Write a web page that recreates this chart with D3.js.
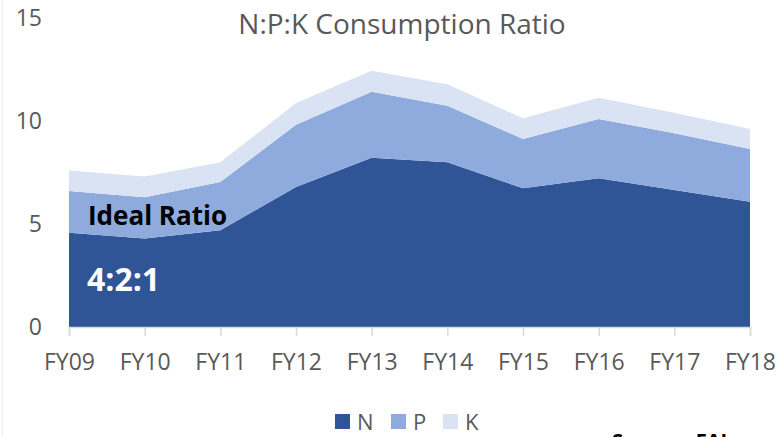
<html>
<head>
<script src="https://cdn.jsdelivr.net/npm/d3@7"></script>
<style>
  body { margin: 0; background: #fff; font-family: "Open Sans", Calibri, sans-serif; }
  svg { display: block; }
</style>
</head>
<body>
<svg id="chart"></svg>
<script>
// data
let years = ["FY09","FY10","FY11","FY12","FY13","FY14","FY15","FY16","FY17","FY18"];
let nValues = [4.57, 4.3, 4.7, 6.8, 8.22, 8.0, 6.73, 7.22, 6.65, 6.08];
let pValues = [2.03, 2.0, 2.34, 3.02, 3.2, 2.74, 2.4, 2.88, 2.75, 2.56];
let kValues = [1.0, 1.0, 0.96, 1.05, 1.02, 1.04, 1.0, 1.03, 1.0, 0.97];
let yTicks = [0, 5, 10, 15];
let seriesNames = ["N", "P", "K"];
let colors = ["#2f5597", "#8faadc", "#dae3f3"];

function getConfig() {
  let width = 779;
  let height = 437;
  let margin = { top: 18, bottom: 110, left: 69, right: 29 };
  let bodyWidth = width - margin.left - margin.right;
  let bodyHeight = height - margin.top - margin.bottom;
  let container = d3.select("#chart").attr("width", width).attr("height", height);
  return { width, height, margin, bodyWidth, bodyHeight, container };
}

function getScales(config) {
  let xScale = d3.scalePoint().domain(years).range([0, config.bodyWidth]);
  let yScale = d3.scaleLinear().domain([0, 15]).range([config.bodyHeight, 0]);
  return { xScale, yScale };
}

function drawChart() {
  let config = getConfig();
  let { xScale, yScale } = getScales(config);
  let { container, margin } = config;

  // faint outer border on the left
  container.append("line")
    .attr("x1", 2.5).attr("x2", 2.5).attr("y1", 0).attr("y2", config.height)
    .attr("stroke", "#ececec");

  let rows = years.map((y, i) => ({ year: y, N: nValues[i], P: pValues[i], K: kValues[i] }));
  let stacked = d3.stack().keys(seriesNames)(rows);

  let body = container.append("g")
    .attr("transform", `translate(${margin.left},${margin.top})`);

  let area = d3.area()
    .x(d => xScale(d.data.year))
    .y0(d => yScale(d[0]))
    .y1(d => yScale(d[1]));

  body.selectAll(".layer").data(stacked).enter()
    .append("path")
    .attr("d", area)
    .attr("fill", (d, i) => colors[i]);

  // x axis: baseline + ticks
  let axisX = d3.axisBottom(xScale).tickSize(9).tickPadding(18);
  let gx = body.append("g")
    .attr("transform", `translate(0,${config.bodyHeight})`)
    .call(axisX);
  gx.select(".domain").attr("stroke", "#d9d9d9").attr("stroke-width", 1.5);
  gx.selectAll(".tick line").attr("stroke", "#d9d9d9").attr("stroke-width", 1.5);
  gx.selectAll("text")
    .attr("fill", "#595959")
    .style("font-family", "'Open Sans', sans-serif")
    .style("font-size", "23px");

  // y axis labels only
  let axisY = d3.axisLeft(yScale).tickValues(yTicks).tickSize(0).tickPadding(27);
  let gy = body.append("g").call(axisY);
  gy.select(".domain").remove();
  gy.selectAll("text")
    .attr("fill", "#595959")
    .style("font-family", "'Open Sans', sans-serif")
    .style("font-size", "23px");

  // title
  container.append("text")
    .attr("x", 402).attr("y", 34)
    .attr("text-anchor", "middle")
    .attr("fill", "#595959")
    .style("font-family", "'Open Sans', sans-serif")
    .style("font-size", "28px")
    .text("N:P:K Consumption Ratio");

  // annotations
  container.append("text")
    .attr("x", 88).attr("y", 225)
    .attr("fill", "#000")
    .style("font-family", "'Open Sans', sans-serif")
    .style("font-weight", "bold")
    .style("font-size", "26px")
    .text("Ideal Ratio");

  container.append("text")
    .attr("x", 87).attr("y", 291)
    .attr("fill", "#fff")
    .style("font-family", "'Open Sans', sans-serif")
    .style("font-weight", "bold")
    .style("font-size", "32px")
    .text("4:2:1");

  // legend
  let legendX = [335, 391, 443];
  let legend = container.selectAll(".legend").data(seriesNames).enter()
    .append("g")
    .attr("transform", (d, i) => `translate(${legendX[i]},414)`);
  legend.append("rect")
    .attr("width", 15).attr("height", 15)
    .attr("fill", (d, i) => colors[i]);
  legend.append("text")
    .attr("x", 22).attr("y", 16)
    .attr("fill", "#595959")
    .style("font-family", "'Open Sans', sans-serif")
    .style("font-size", "22px")
    .text(d => d);

  // source, cut off at the bottom edge as in the original
  container.append("text")
    .attr("x", 612).attr("y", 448)
    .attr("fill", "#000")
    .style("font-family", "'Open Sans', sans-serif")
    .style("font-weight", "bold")
    .style("font-size", "20px")
    .text("Source : FAI");
}

drawChart();
</script>
</body>
</html>
